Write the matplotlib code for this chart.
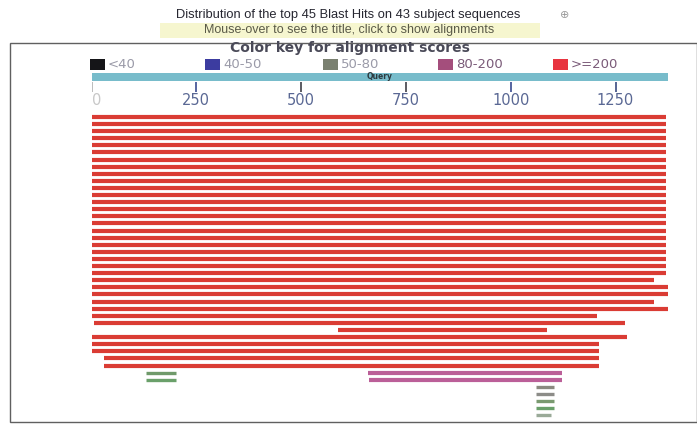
import matplotlib
matplotlib.use("Agg")
import matplotlib.pyplot as plt
from matplotlib.patches import Rectangle

W, H = 697, 425

# ---------------- data ----------------
query_len = 1374
tick_values = [0, 250, 500, 750, 1000, 1250]
tick_labels = ["0", "250", "500", "750", "1000", "1250"]

# red hits (score >= 200), one per row, top to bottom
red_starts = [0] * 29 + [5, 588, 0, 0, 0, 30, 30]
red_ends = [1370] * 23 + [1342, 1378, 1378, 1342, 1378, 1206, 1273, 1087,
                          1278, 1211, 1211, 1211, 1211]

# 80-200 hits (purple)
purple_rows = [36, 37]
purple_starts = [660, 662]
purple_ends = [1122, 1122]

# 50-80 hits (green/grey)
green_rows = [36, 37, 38, 39, 40, 41, 42]
green_starts = [130, 130, 1061, 1061, 1061, 1061, 1061]
green_ends = [202, 202, 1103, 1103, 1103, 1103, 1095]
green_colors = ["#6f9a6a", "#6aa06a", "#8a8a80", "#8c8c88", "#7a9a70",
                "#6aa06a", "#9aaa98"]

legend_labels = ["<40", "40-50", "50-80", "80-200", ">=200"]
legend_colors = ["#151518", "#3c3ca0", "#7a8070", "#a44e7c", "#e8343f"]

title = "Distribution of the top 45 Blast Hits on 43 subject sequences"
subtitle = "Mouse-over to see the title, click to show alignments"
key_title = "Color key for alignment scores"

RED = "#da3c34"
PURPLE = "#bb5f98"

# ---------------- helpers ----------------
def fx(px):
    return px / W

def fy(py):
    return 1 - py / H

fig = plt.figure(figsize=(W / 100, H / 100), dpi=100)
fig.patch.set_facecolor("white")

# frame
fig.patches.append(Rectangle((fx(10), fy(422)), fx(697) - fx(10) - 0.0005,
                             fy(43) - fy(422), transform=fig.transFigure,
                             fill=False, edgecolor="#606060", linewidth=1.0))

# subtitle highlight
fig.patches.append(Rectangle((fx(160), fy(38)), fx(540) - fx(160),
                             fy(23) - fy(38), transform=fig.transFigure,
                             facecolor="#f6f6cf", edgecolor="none"))

fig.text(fx(348), fy(15), title, ha="center", va="center",
         fontsize=9.3, family="Liberation Sans", color="#262630")
fig.text(fx(565), fy(15), "\u2295", ha="center", va="center",
         fontsize=8, color="#9a9a9a")
fig.text(fx(349), fy(30), subtitle, ha="center", va="center",
         fontsize=9.0, family="Liberation Sans", color="#5a5a48")
fig.text(fx(350), fy(48), key_title, ha="center", va="center",
         fontsize=10, fontweight="bold", color="#4a4a58")

# legend
leg_x = [90, 205, 323, 438, 553]
for x, lab, col in zip(leg_x, legend_labels, legend_colors):
    fig.patches.append(Rectangle((fx(x), fy(70)), fx(15), fy(59) - fy(70),
                                 transform=fig.transFigure,
                                 facecolor=col, edgecolor="none"))
    tcol = "#9a9aa8" if lab in ("<40", "40-50", "50-80") else "#7a5a78"
    fig.text(fx(x + 18), fy(64.5), lab, ha="left", va="center",
             fontsize=9.5, color=tcol)

# ---------------- ruler / query axis ----------------
x_left, x_right = 91.5, 667.5
ax_w = (x_right - x_left) / W
ax_q = fig.add_axes([fx(x_left), fy(110), ax_w, fy(70) - fy(110)])
ax_q.set_xlim(0, query_len)
ax_q.set_ylim(110, 70)
ax_q.axis("off")
ax_q.barh([77], [query_len], left=0, height=8, color="#78bccb",
          edgecolor="none")
ax_q.text(query_len * 0.5, 76.5, "Query", ha="center", va="center",
          fontsize=5.5, fontweight="bold", color="#2c3a40")
tick_cols = ["#b0b0b0", "#3a4a90", "#404048", "#404048", "#3a4a90", "#3a4a80"]
for v, lab, c in zip(tick_values, tick_labels, tick_cols):
    ax_q.vlines(v, 82, 92, color=c, linewidth=1.2)
    ax_q.text(v + (12 if v == 0 else 0), 100.5, lab, ha="center",
              va="center", fontsize=10.5,
              color="#c8c8c8" if v == 0 else "#5a6894")

# ---------------- hits axis ----------------
row_y0, row_dy = 117.0, 7.1
top_px, bot_px = 110, 421
ax = fig.add_axes([fx(x_left), fy(bot_px), ax_w, fy(top_px) - fy(bot_px)])
ax.set_xlim(0, query_len)
ax.set_ylim((bot_px - row_y0) / row_dy, (top_px - row_y0) / row_dy)
ax.axis("off")

lw = 3.0
red_rows = list(range(len(red_starts)))
ax.hlines(red_rows, red_starts, red_ends, color=RED, linewidth=lw)
ax.hlines(purple_rows, purple_starts, purple_ends, color=PURPLE, linewidth=lw)
for r, s, e, c in zip(green_rows, green_starts, green_ends, green_colors):
    ax.hlines(r, s, e, color=c, linewidth=lw - 0.6)

fig.savefig("out.png", dpi=100, facecolor="white")
